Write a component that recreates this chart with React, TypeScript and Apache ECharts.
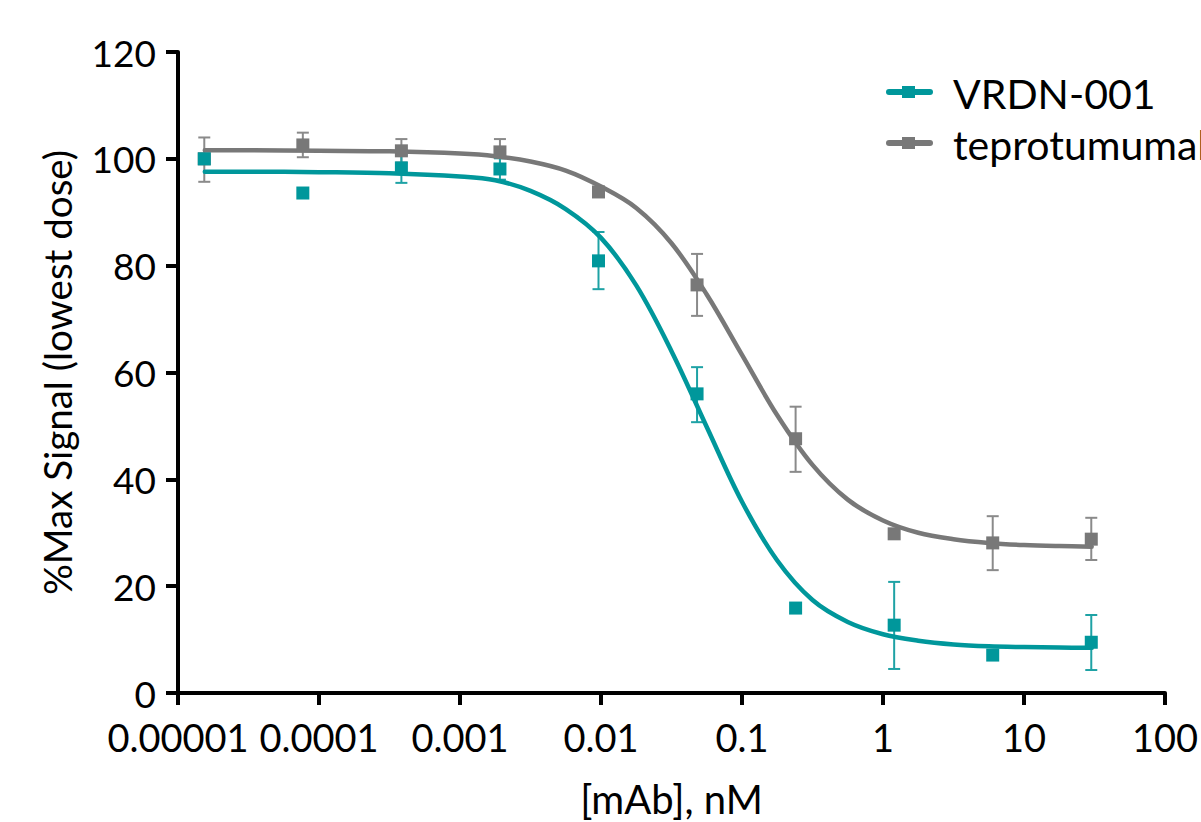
import React, { useEffect, useRef } from "react";
import * as echarts from "echarts";

// ---- data ----
const seriesNames = ["VRDN-001", "teprotumumab"];
const seriesColors = ["#00979b", "#787878"];
const errorColors = ["#1ea2a5", "#8a8a8a"];

// doses in nM (5-fold dilution series)
const doses = [1.536e-5, 7.68e-5, 3.84e-4, 1.92e-3, 9.6e-3, 0.048, 0.24, 1.2, 6, 30];

const vrdnMean = [100, 93.6, 98.3, 98.1, 80.9, 56.0, 15.9, 12.7, 7.1, 9.5];
const vrdnErrLow = [null, null, 95.5, 96.1, 75.6, 50.7, null, 4.5, null, 4.3];
const vrdnErrHigh = [null, null, 100.7, 100.1, 86.3, 61.0, null, 20.8, null, 14.6];

const teproMean = [100, 102.6, 101.5, 101.3, 93.8, 76.4, 47.6, 29.8, 28.1, 28.8];
const teproErrLow = [95.7, 100.3, 99.3, 98.9, null, 70.6, 41.4, null, 23.0, 24.9];
const teproErrHigh = [104.0, 104.9, 103.7, 103.7, null, 82.2, 53.6, null, 33.1, 32.8];

// fitted curves (x given as log10 of dose in nM)
const curveLogDose = [-4.81, -4.5, -4.0, -3.5, -3.0, -2.75, -2.5, -2.25, -2.0, -1.75, -1.5, -1.25, -1.0, -0.75, -0.5, -0.25, 0, 0.25, 0.5, 0.75, 1.0, 1.25, 1.48];
const vrdnCurve = [97.6, 97.6, 97.5, 97.3, 96.7, 96.0, 94.0, 90.6, 85.2, 76.3, 64.0, 49.8, 35.8, 24.8, 17.4, 13.3, 11.0, 9.8, 9.1, 8.75, 8.6, 8.5, 8.45];
const teproCurve = [101.6, 101.6, 101.5, 101.4, 101.0, 100.5, 99.5, 97.8, 94.8, 90.8, 84.2, 74.6, 63.3, 52.0, 42.7, 36.2, 32.3, 30.0, 28.8, 28.1, 27.7, 27.5, 27.4];

const xTickLabels = ["0.00001", "0.0001", "0.001", "0.01", "0.1", "1", "10", "100"];
const yTicks = { min: 0, max: 120, interval: 20 };

const xTitle = "[mAb], nM";
const yTitle = "%Max Signal (lowest dose)";

const FONT = "Lato, 'Open Sans', sans-serif";

function errData(low: (number | null)[], high: (number | null)[]) {
  const out: number[][] = [];
  doses.forEach((d, i) => {
    if (low[i] != null && high[i] != null) out.push([d, low[i] as number, high[i] as number]);
  });
  return out;
}

function makeErrorSeries(idx: number, low: (number | null)[], high: (number | null)[]) {
  const color = errorColors[idx];
  return {
    type: "custom",
    name: seriesNames[idx] + " error",
    z: 2,
    silent: true,
    encode: { x: 0, y: [1, 2] },
    data: errData(low, high),
    renderItem: (params: any, api: any) => {
      const x = api.value(0);
      const pLo = api.coord([x, api.value(1)]);
      const pHi = api.coord([x, api.value(2)]);
      const hw = 6;
      const style = { stroke: color, lineWidth: 2 };
      return {
        type: "group",
        children: [
          { type: "line", shape: { x1: pLo[0], y1: pLo[1], x2: pHi[0], y2: pHi[1] }, style },
          { type: "line", shape: { x1: pLo[0] - hw, y1: pLo[1], x2: pLo[0] + hw, y2: pLo[1] }, style },
          { type: "line", shape: { x1: pHi[0] - hw, y1: pHi[1], x2: pHi[0] + hw, y2: pHi[1] }, style },
        ],
      };
    },
  };
}

function makeCurve(idx: number, values: number[]) {
  return {
    type: "line",
    name: seriesNames[idx],
    z: 3,
    smooth: 0.35,
    showSymbol: false,
    symbol: "none",
    silent: true,
    lineStyle: { color: seriesColors[idx], width: 4.5, cap: "round", join: "round" },
    data: curveLogDose.map((lx, i) => [Math.pow(10, lx), values[i]]),
  };
}

function makePoints(idx: number, values: number[]) {
  return {
    type: "scatter",
    name: seriesNames[idx] + " points",
    z: 4,
    symbol: "rect",
    symbolSize: 13,
    silent: true,
    itemStyle: { color: seriesColors[idx], opacity: 1 },
    data: doses.map((d, i) => [d, values[i]]),
  };
}

function legendItem(idx: number, y: number) {
  const color = seriesColors[idx];
  return {
    type: "group",
    x: 0,
    y: 0,
    children: [
      { type: "line", shape: { x1: 889, y1: y, x2: 930, y2: y }, style: { stroke: color, lineWidth: 6, lineCap: "round" } },
      { type: "rect", shape: { x: 902, y: y - 6, width: 13, height: 12 }, style: { fill: color } },
      {
        type: "text",
        x: 953,
        y: y + 1,
        style: { text: seriesNames[idx], font: `41px ${FONT}`, fill: "#000", textVerticalAlign: "middle", verticalAlign: "middle" },
      },
    ],
  };
}

export default function App() {
  const ref = useRef<HTMLDivElement>(null);
  useEffect(() => {
    if (!ref.current) return;
    const chart = echarts.init(ref.current, null, { renderer: "svg" });
    chart.setOption({
      animation: false,
      backgroundColor: "#ffffff",
      textStyle: { fontFamily: FONT },
      grid: { left: 178, right: 36, top: 52, bottom: 129, containLabel: false, outerBoundsMode: "none" },
      xAxis: {
        type: "log",
        logBase: 10,
        min: 1e-5,
        max: 100,
        splitNumber: 7,
        name: xTitle,
        nameLocation: "middle",
        nameGap: 86,
        nameTextStyle: { fontSize: 40, color: "#000", fontFamily: FONT },
        axisLine: { show: true, onZero: false, lineStyle: { color: "#000", width: 4, cap: "round" } },
        axisTick: { show: true, length: 12, inside: false, lineStyle: { color: "#000", width: 4 } },
        minorTick: { show: false },
        splitLine: { show: false },
        axisLabel: {
          fontSize: 38,
          color: "#000",
          margin: 25,
          fontFamily: FONT,
          formatter: (v: number) => xTickLabels[Math.round(Math.log10(v)) + 5] ?? "",
        },
      },
      yAxis: {
        type: "value",
        min: yTicks.min,
        max: yTicks.max,
        interval: yTicks.interval,
        name: yTitle,
        nameLocation: "middle",
        nameGap: 102,
        nameRotate: 90,
        nameTextStyle: { fontSize: 38.5, color: "#000", fontFamily: FONT },
        axisLine: { show: true, onZero: false, lineStyle: { color: "#000", width: 4, cap: "round" } },
        axisTick: { show: true, length: 12, inside: false, lineStyle: { color: "#000", width: 4 } },
        splitLine: { show: false },
        axisLabel: { fontSize: 37, color: "#000", margin: 22, fontFamily: FONT },
      },
      graphic: [legendItem(0, 92), legendItem(1, 143)],
      series: [
        makeErrorSeries(1, teproErrLow, teproErrHigh),
        makeErrorSeries(0, vrdnErrLow, vrdnErrHigh),
        makeCurve(1, teproCurve),
        makeCurve(0, vrdnCurve),
        makePoints(1, teproMean),
        makePoints(0, vrdnMean),
      ],
    });
    return () => chart.dispose();
  }, []);
  return <div ref={ref} style={{ position: "absolute", left: 0, top: 0, width: 1201, height: 822 }} />;
}
